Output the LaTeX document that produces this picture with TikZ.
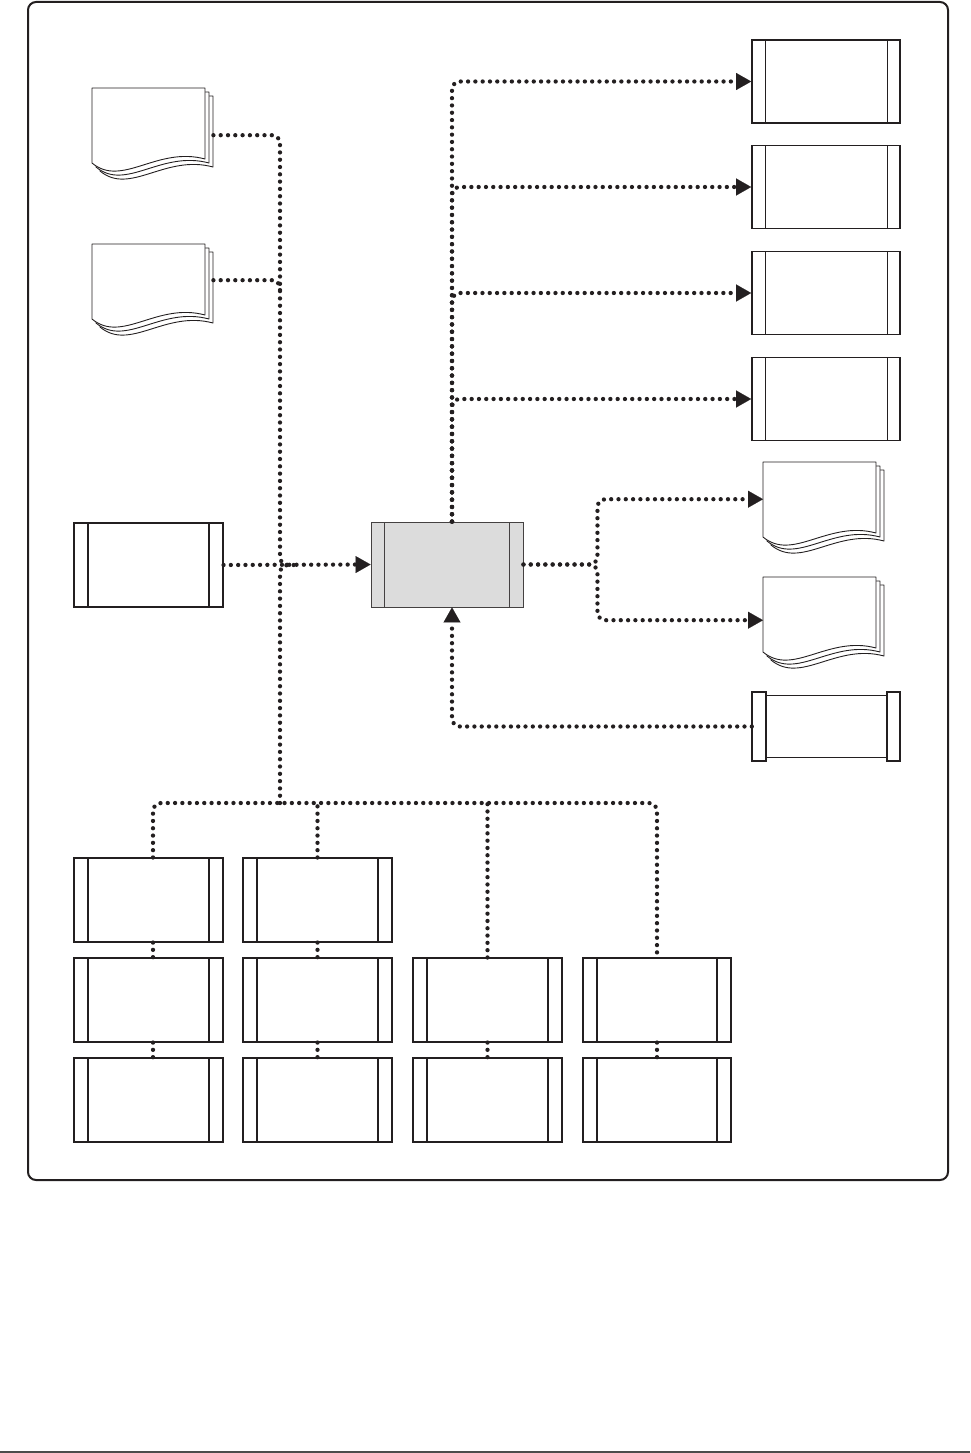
\documentclass[tikz,border=0pt]{standalone}
\usetikzlibrary{arrows.meta,calc}
\definecolor{ink}{HTML}{231F20}
\definecolor{boxgray}{HTML}{DCDCDC}
\newcommand\mdoc[3]{%
  \foreach \k in {8,4,0}{%
    \filldraw[fill=white, draw=ink, line width=0.9pt, line join=round]
      ({#2+\k},{#3+\k}) -- ({#2+\k+113},{#3+\k}) -- ({#2+\k+113},{#3+\k+71})
      .. controls ({#2+\k+65},{#3+\k+58}) and ({#2+\k+30},{#3+\k+100}) .. ({#2+\k},{#3+\k+75}) -- cycle;}%
  \node[docn, anchor=north west] (#1) at (#2,#3) {};}
\begin{document}
\begin{tikzpicture}[x=1pt,y=-1pt,
  conn/.style={draw=ink, line width=4.3pt, line cap=round, dash pattern=on 0pt off 7.3pt},
  tip/.style={-{Triangle[length=15pt,width=17pt,line width=0.1pt]}},
  docn/.style={minimum width=121pt, minimum height=94pt, inner sep=0pt, draw=none},
  procA/.style={draw=ink, line width=1.1pt, fill=white, rectangle, inner sep=0pt,
    minimum width=149pt, minimum height=84pt,
    path picture={
      \draw[ink, line width=1.8pt] ([xshift=14pt]path picture bounding box.north west) -- ([xshift=14pt]path picture bounding box.south west);
      \draw[ink, line width=1.8pt] ([xshift=-14pt]path picture bounding box.north east) -- ([xshift=-14pt]path picture bounding box.south east);}},
  procB/.style={draw=ink, line width=1.7pt, fill=white, rectangle, inner sep=0pt,
    minimum width=148pt, minimum height=83pt,
    path picture={
      \draw[ink, line width=1pt] ([xshift=13pt]path picture bounding box.north west) -- ([xshift=13pt]path picture bounding box.south west);
      \draw[ink, line width=1pt] ([xshift=-13pt]path picture bounding box.north east) -- ([xshift=-13pt]path picture bounding box.south east);}},
  procC/.style={draw=ink!85, line width=0.9pt, fill=boxgray, rectangle, inner sep=0pt,
    minimum width=152pt, minimum height=85pt,
    path picture={
      \draw[ink!85, line width=0.9pt] ([xshift=13pt]path picture bounding box.north west) -- ([xshift=13pt]path picture bounding box.south west);
      \draw[ink!85, line width=0.9pt] ([xshift=-14pt]path picture bounding box.north east) -- ([xshift=-14pt]path picture bounding box.south east);}}
]
\useasboundingbox (0,0) rectangle (970,1453);
% frame
\draw[ink, line width=2pt, rounded corners=8pt] (28,2) rectangle (948,1180);
\draw[black!70, line width=1.2pt] (0,1452) -- (970,1452);

% documents
\mdoc{d1}{92}{88}
\mdoc{d2}{92}{244}
\mdoc{rd1}{763}{462}
\mdoc{rd2}{763}{577}

% process boxes
\node[procA] (lb) at (148.5,565) {};
\node[procC] (c) at (447,564.5) {};
\node[procB] (r1) at (826,81.5) {};
\node[procB] (r2) at (826,187) {};
\node[procB] (r3) at (826,293) {};
\node[procB] (r4) at (826,399) {};
% bottom right box
\node[minimum width=148pt, minimum height=69pt, inner sep=0pt] (br) at (826,726.5) {};
\draw[ink, line width=1pt] ([xshift=14pt,yshift=-4pt]br.north west) rectangle ([xshift=-13pt,yshift=4pt]br.south east);
\draw[ink, line width=1.7pt] (br.north west) rectangle ([xshift=14pt]br.south west);
\draw[ink, line width=1.7pt] ([xshift=-13pt]br.north east) rectangle (br.south east);

% bottom grid
\node[procA] (b11) at (148.5,900) {};
\node[procA] (b12) at (148.5,1000) {};
\node[procA] (b13) at (148.5,1100) {};
\node[procA] (b21) at (317.5,900) {};
\node[procA] (b22) at (317.5,1000) {};
\node[procA] (b23) at (317.5,1100) {};
\node[procA] (b32) at (487.5,1000) {};
\node[procA] (b33) at (487.5,1100) {};
\node[procA, minimum width=148pt] (b42) at (657,1000) {};
\node[procA, minimum width=148pt] (b43) at (657,1100) {};

% junctions
\coordinate (J) at (280,565);
\coordinate (B) at (280,803);
\coordinate (K) at ($(c.east)+(74,0)$);

% left side connectors
\draw[conn, rounded corners=8pt] (d1.east) -| (J) -- ($(J)+(14,0)$);
\draw[conn, rounded corners=8pt] ($(d2.east)+(0,-11)$) -| ($(J)+(0,-270)$);
\draw[conn, rounded corners=8pt] (B) -- (J) -- ($(J)+(14,0)$);
\draw[conn, tip] (lb.east) -- (c.west);

% bus to bottom boxes
\draw[conn, rounded corners=8pt] ([xshift=4.5pt]b11.north) |- (B) -| (b42.north);
\draw[conn] (b21.north) -- (b21.north |- B);
\draw[conn] (b32.north) -- (b32.north |- B);
\draw[conn] ([xshift=4.5pt]b11.south) -- ([xshift=4.5pt]b12.north);
\draw[conn] ([xshift=4.5pt]b12.south) -- ([xshift=4.5pt]b13.north);
\draw[conn] (b21.south) -- (b22.north);
\draw[conn] (b22.south) -- (b23.north);
\draw[conn] (b32.south) -- (b33.north);
\draw[conn] (b42.south) -- (b43.north);

% top right fan
\draw[conn, tip, rounded corners=8pt] ([xshift=5pt]c.north) |- (r1.west);
\draw[conn, tip, rounded corners=8pt] ([xshift=5pt]c.north) |- (r2.west);
\draw[conn, tip, rounded corners=8pt] ([xshift=5pt]c.north) |- (r3.west);
\draw[conn, tip, rounded corners=8pt] ([xshift=5pt]c.north) |- (r4.west);

% right split to documents
\draw[conn, tip, rounded corners=8pt] (c.east) -- (K) |- ($(rd1.west)+(0,-10)$);
\draw[conn, tip, rounded corners=8pt] (c.east) -- (K) |- ($(rd2.west)+(0,-4)$);

% feedback from bottom right box
\draw[conn, tip, rounded corners=8pt] (br.west) -| ([xshift=5pt]c.south);
\end{tikzpicture}
\end{document}
